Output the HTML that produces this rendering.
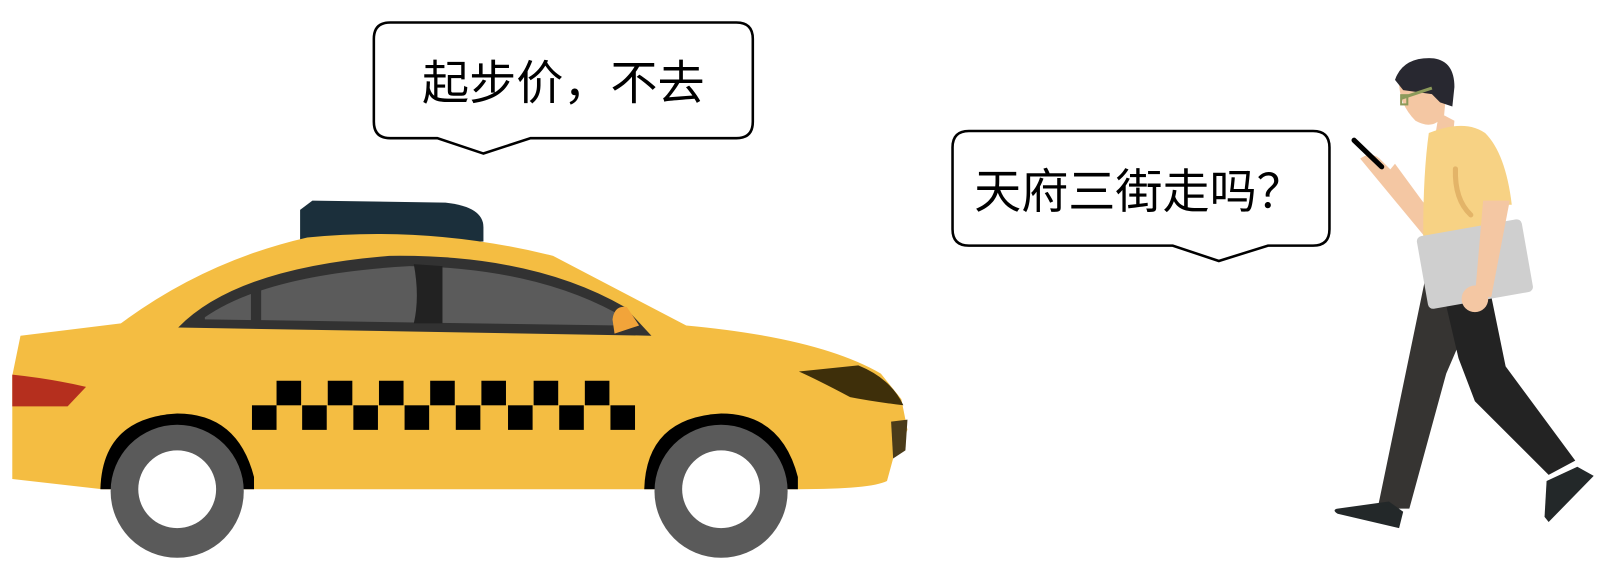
<!DOCTYPE html>
<html><head><meta charset="utf-8"><style>
html,body{margin:0;padding:0;background:#fff;width:1606px;height:566px;overflow:hidden}
svg{display:block}
text{font-family:"Liberation Sans","Noto Sans CJK SC",sans-serif}
</style></head><body>
<svg width="1606" height="566" viewBox="0 0 1568 553" preserveAspectRatio="none">
<!-- Bubble 1 -->
<g>
<path d="M381,22 H719 Q735,22 735,38 V119 Q735,135 719,135 H518 L472,150 L427,135 H381 Q365,135 365,119 V38 Q365,22 381,22 Z" fill="#fff" stroke="#000" stroke-width="2.5"/>
<text x="550" y="97" font-size="46" text-anchor="middle">起步价，不去</text>
</g>
<!-- Bubble 2 -->
<g>
<path d="M946,128 H1282 Q1298,128 1298,144 V224 Q1298,240 1282,240 H1238 L1190,255 L1145,240 H946 Q930,240 930,224 V144 Q930,128 946,128 Z" fill="#fff" stroke="#000" stroke-width="2.5"/>
<text x="1112" y="203" font-size="46" text-anchor="middle">天府三街走吗？</text>
</g>
<!-- Taxi -->
<g>
<path d="M293,205 L305,196 L435,198 Q472,202 472,222 L472,236 L293,236 Z" fill="#1b2f3b"/>
<path d="M12,367 L20,328 L118,316 Q200,255 300,232 Q420,220 540,250 L670,318 Q800,330 860,365 L880,390 L886,420 L872,448 L866,470 Q850,478 780,478 L100,478 L12,468 Z" fill="#f4bd42"/>
<path d="M12,366 Q50,370 84,378 L66,397 L12,397 Z" fill="#b52f1e"/>
<path d="M174,320 Q230,262 380,250 Q520,248 610,300 L636,328 Z" fill="#323232"/>
<path d="M200,310 Q260,268 400,260 Q520,262 600,305 L605,318 L200,312 Z" fill="#5b5b5b"/>
<rect x="245" y="280" width="10" height="34" fill="#323232"/>
<path d="M404,258 L432,260 L432,316 L404,316 Q410,290 404,258 Z" fill="#222"/>
<path d="M598,312 Q600,298 612,300 L624,318 L600,326 Z" fill="#f2a43a"/>
<path d="M780,363 L838,357 Q870,370 882,396 Q850,392 830,388 Q800,372 780,363 Z" fill="#3e2f0a"/>
<path d="M870,412 L886,410 L884,440 L872,448 Z" fill="#4a3b1a"/>
<g fill="#000">
<rect x="270" y="372" width="24" height="24"/><rect x="320" y="372" width="24" height="24"/><rect x="370" y="372" width="24" height="24"/><rect x="420" y="372" width="24" height="24"/><rect x="470" y="372" width="24" height="24"/><rect x="521" y="372" width="24" height="24"/><rect x="571" y="372" width="24" height="24"/>
<rect x="246" y="396" width="24" height="24"/><rect x="295" y="396" width="24" height="24"/><rect x="345" y="396" width="24" height="24"/><rect x="395" y="396" width="24" height="24"/><rect x="445" y="396" width="24" height="24"/><rect x="496" y="396" width="24" height="24"/><rect x="546" y="396" width="24" height="24"/><rect x="596" y="396" width="24" height="24"/>
</g>
<path d="M98,478 Q100,408 173,404 Q232,404 248,466 L248,478 Z" fill="#000"/>
<path d="M629,478 Q631,408 704,404 Q763,404 779,466 L779,478 Z" fill="#000"/>
<g><circle cx="173" cy="480" r="65" fill="#5a5a5a"/><circle cx="173" cy="478" r="38" fill="#fff"/></g>
<g><circle cx="704" cy="480" r="65" fill="#5a5a5a"/><circle cx="704" cy="478" r="38" fill="#fff"/></g>
</g>
<!-- Person -->
<g>
<path d="M1392,270 L1345,497 L1376,497 L1412,365 L1440,300 Z" fill="#363432"/>
<path d="M1410,290 L1424,350 L1440,392 L1512,464 L1538,450 L1470,358 L1452,270 Z" fill="#232323"/>
<path d="M1306,497 L1356,490 L1370,500 L1366,516 L1306,502 Q1300,498 1306,497 Z" fill="#232829"/>
<path d="M1510,470 L1540,456 L1556,465 L1512,510 L1508,505 Z" fill="#232829"/>
<path d="M1328,155 Q1340,146 1350,158 L1392,200 L1390,230 Z" fill="#f4c7a3"/>
<path d="M1362,160 L1352,172 L1390,224 L1395,205 Z" fill="#f4c7a3"/>
<path d="M1405,110 L1420,118 L1418,140 L1400,140 Z" fill="#f4c7a3"/>
<path d="M1395,130 Q1430,116 1450,130 Q1470,150 1476,200 L1450,200 L1450,260 L1390,260 Q1388,180 1395,130 Z" fill="#f7d284"/>
<path d="M1421,165 Q1420,195 1436,210" fill="none" stroke="#e3b468" stroke-width="5" stroke-linecap="round"/>
<rect x="1388" y="222" width="104" height="72" rx="5" transform="rotate(-10 1440 258)" fill="#cfcfcf"/>
<path d="M1448,196 L1474,196 L1456,290 L1440,290 Z" fill="#f4c7a3"/>
<circle cx="1440" cy="292" r="13" fill="#f4c7a3"/>
<path d="M1366,80 Q1366,102 1382,118 Q1400,128 1410,112 L1412,90 Z" fill="#f4c7a3"/>
<path d="M1362,78 Q1370,55 1400,57 Q1420,60 1420,85 L1418,104 L1406,100 L1398,92 L1370,88 Z" fill="#282830"/>
<path d="M1368,96 L1398,86" stroke="#8c9a5a" stroke-width="3"/>
<rect x="1368" y="93" width="6" height="9" fill="none" stroke="#8c9a5a" stroke-width="2"/>
<line x1="1322" y1="137" x2="1349" y2="163" stroke="#000" stroke-width="5" stroke-linecap="round"/>
</g>
</svg>
</body></html>
